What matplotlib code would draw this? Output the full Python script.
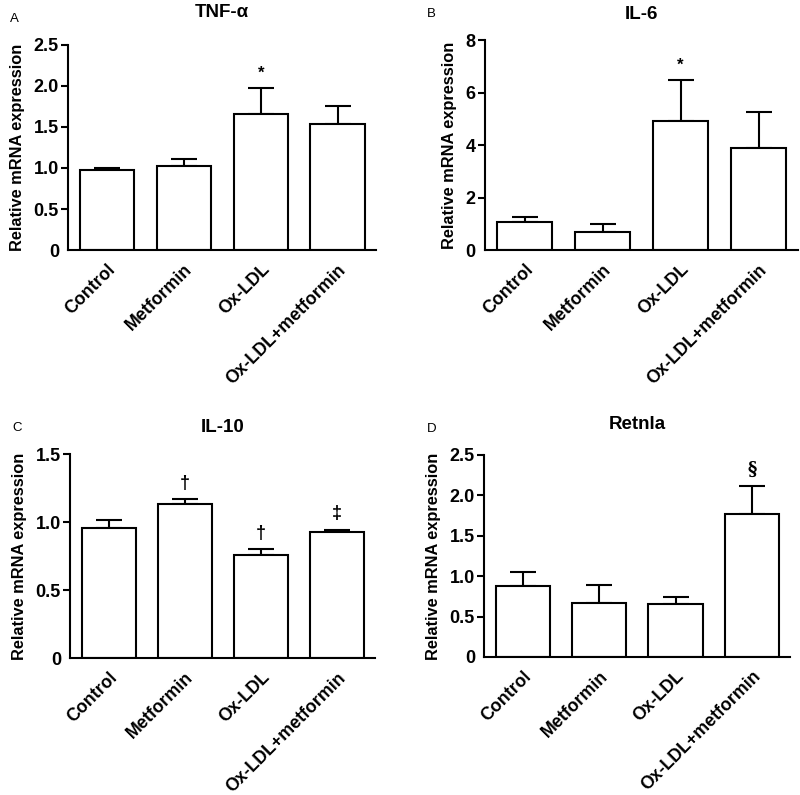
import matplotlib
matplotlib.use("Agg")
import matplotlib.pyplot as plt

plt.rcParams["font.family"] = ["Liberation Sans", "DejaVu Sans"]

groups = ["Control", "Metformin", "Ox-LDL", "Ox-LDL+metformin"]

# per panel: mean, upper error-bar end, significance marks
tnf_mean = [0.98, 1.03, 1.66, 1.54]
tnf_top = [1.00, 1.11, 1.97, 1.76]
tnf_marks = ["", "", "*", ""]

il6_mean = [1.05, 0.70, 4.90, 3.90]
il6_top = [1.25, 1.00, 6.48, 5.28]
il6_marks = ["", "", "*", ""]

il10_mean = [0.955, 1.13, 0.76, 0.925]
il10_top = [1.015, 1.17, 0.80, 0.945]
il10_marks = ["", "\u2020", "\u2020", "\u2021"]

retnla_mean = [0.875, 0.67, 0.66, 1.77]
retnla_top = [1.05, 0.895, 0.745, 2.12]
retnla_marks = ["", "", "", "\u00a7"]

panels = [
    ("A", "TNF-\u03b1", tnf_mean, tnf_top, tnf_marks, 2.5, [0, 0.5, 1.0, 1.5, 2.0, 2.5],
     ["0", "0.5", "1.0", "1.5", "2.0", "2.5"], [0.085, 0.6855, 0.385, 0.258], 20),
    ("B", "IL-6", il6_mean, il6_top, il6_marks, 8, [0, 2, 4, 6, 8],
     ["0", "2", "4", "6", "8"], [0.606, 0.6855, 0.391, 0.264], 15.5),
    ("C", "IL-10", il10_mean, il10_top, il10_marks, 1.5, [0, 0.5, 1.0, 1.5],
     ["0", "0.5", "1.0", "1.5"], [0.0875, 0.1723, 0.381, 0.2566], 16),
    ("D", "Retnla", retnla_mean, retnla_top, retnla_marks, 2.5, [0, 0.5, 1.0, 1.5, 2.0, 2.5],
     ["0", "0.5", "1.0", "1.5", "2.0", "2.5"], [0.605, 0.1736, 0.3825, 0.2541], 19),
]

fig = plt.figure(figsize=(8, 7.95), dpi=100)

for letter, title, mean, top, marks, ymax, yt, ytl, rect, tpad in panels:
    ax = fig.add_axes(rect)
    x = list(range(len(groups)))
    err = [t - m for t, m in zip(top, mean)]
    ax.bar(x, mean, width=0.71, color="white", edgecolor="black", linewidth=1.5, zorder=2)
    ax.errorbar(x, mean, yerr=[[0] * len(x), err], fmt="none", ecolor="black",
                elinewidth=1.5, capsize=9.5, capthick=1.5, zorder=1)
    for xi, t, m in zip(x, top, marks):
        if m:
            ax.text(xi, t + ymax * 0.035, m, ha="center", va="bottom",
                    fontsize=13 if m != "*" else 12, fontweight="bold",
                    family=["DejaVu Serif"] if m == "\u00a7" else None)
    ax.set_xlim(-0.51, 3.5)
    ax.set_ylim(0, ymax)
    ax.set_yticks(yt)
    ax.set_yticklabels(ytl, fontsize=13, fontweight="bold")
    ax.yaxis.get_major_ticks()[0].tick1line.set_visible(False)
    ax.set_xticks(x)
    ax.set_xticklabels(groups, rotation=45, ha="right", rotation_mode="anchor",
                       fontsize=12.8, fontweight="bold")
    ax.tick_params(axis="x", length=0, pad=8)
    ax.tick_params(axis="y", length=5, width=1.5, pad=1.5)
    for s in ("top", "right"):
        ax.spines[s].set_visible(False)
    for s in ("left", "bottom"):
        ax.spines[s].set_linewidth(1.5)
    ax.set_ylabel("Relative mRNA expression", fontsize=11.8, fontweight="bold", labelpad=6)
    ax.set_title(title, fontsize=13.5, fontweight="bold", pad=tpad)
    fig.text(rect[0] - 0.072, rect[1] + rect[3] + 0.033, letter, fontsize=9.5, ha="left", va="center")

fig.savefig("out.png", dpi=100)
